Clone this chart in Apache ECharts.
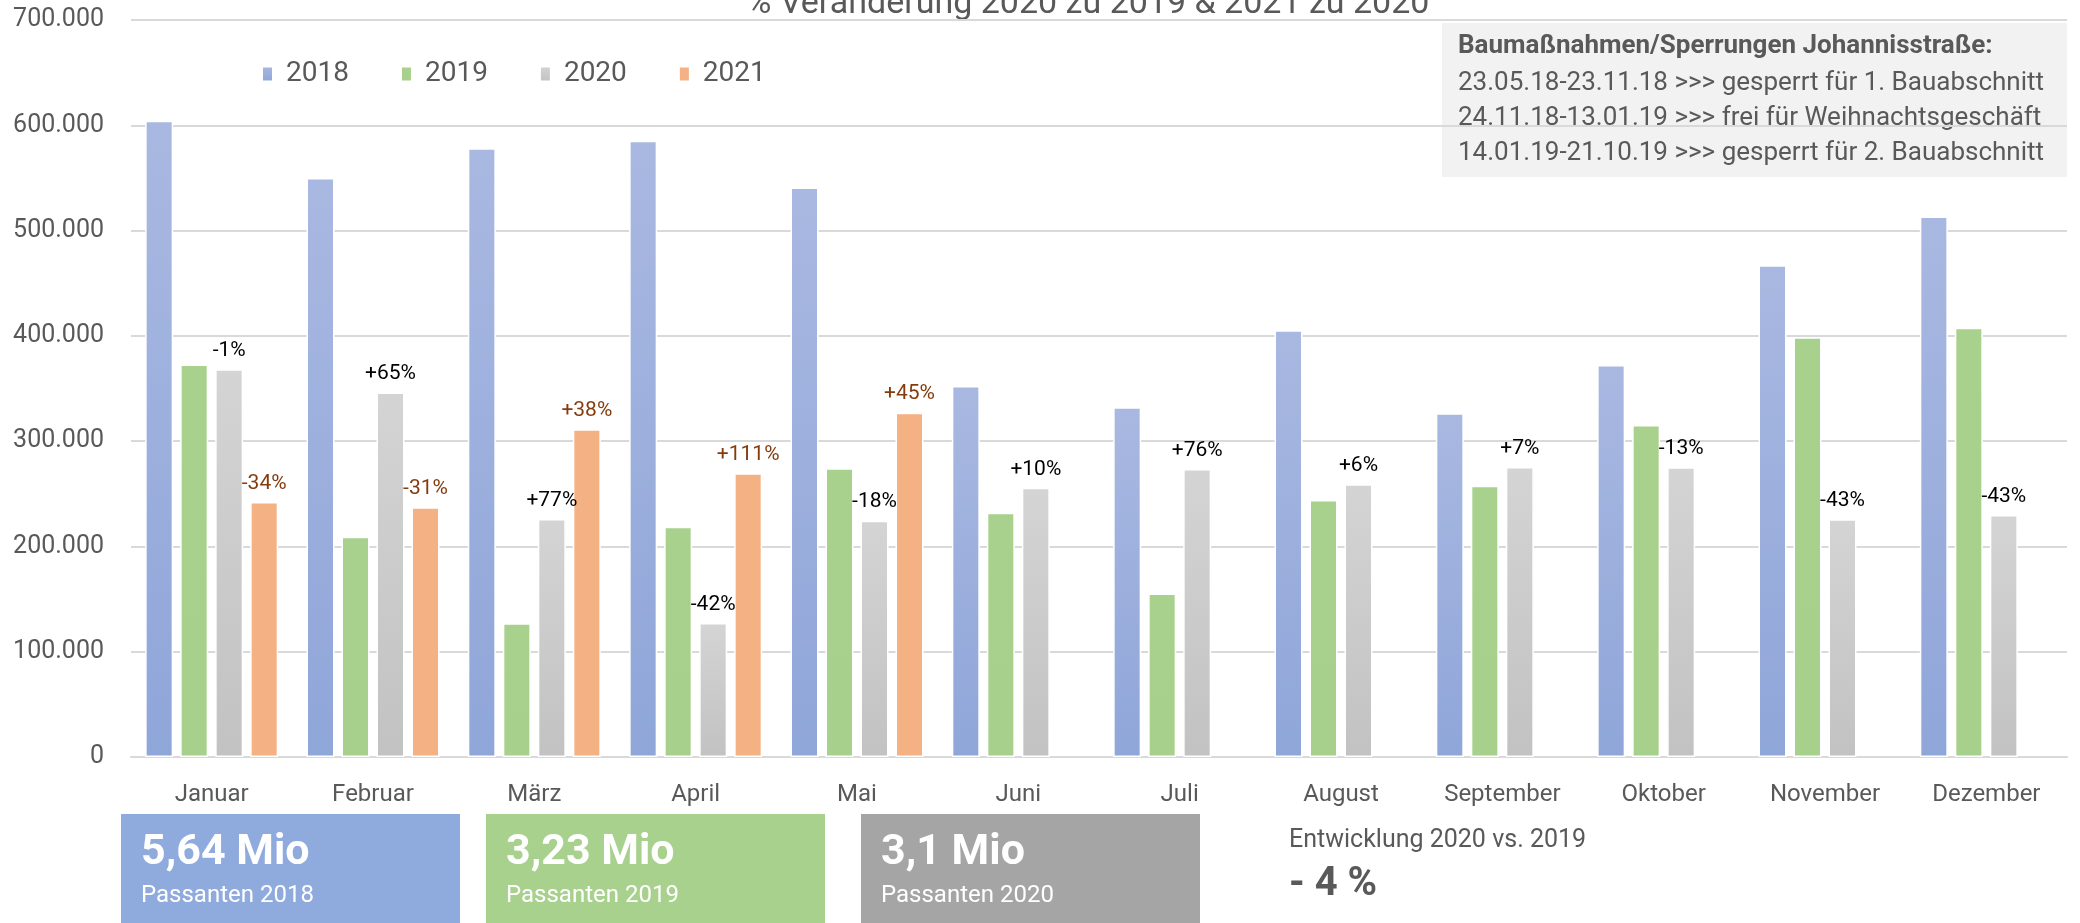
<!DOCTYPE html>
<html>
<head>
<meta charset="utf-8">
<script src="https://cdn.jsdelivr.net/npm/echarts@6/dist/echarts.min.js"></script>
<style>
  html, body { margin: 0; padding: 0; background: #fff; }
  #passantenChart { width: 2080px; height: 923px; }
</style>
</head>
<body>
<div id="passantenChart"></div>
<script>
// Monate und Passantenzahlen je Jahr
const months = ['Januar', 'Februar', 'März', 'April', 'Mai', 'Juni', 'Juli', 'August', 'September', 'Oktober', 'November', 'Dezember']
const years = ['2018', '2019', '2020', '2021']
const v2018 = [604300, 549900, 578300, 585300, 541000, 352300, 332100, 405300, 326400, 372300, 467000, 513400]
const v2019 = [372900, 209200, 127000, 218700, 274200, 232000, 155400, 244000, 257600, 315300, 398600, 407600]
const v2020 = [368200, 346300, 226000, 127300, 224400, 255700, 273500, 259000, 275400, 275100, 225700, 229800]
const v2021 = [242200, 237100, 311200, 269400, 327000, null, null, null, null, null, null, null]
// Veränderungen (Beschriftung über den Balken)
const change2020 = ['-1%', '+65%', '+77%', '-42%', '-18%', '+10%', '+76%', '+6%', '+7%', '-13%', '-43%', '-43%']
const change2021 = ['-34%', '-31%', '+38%', '+111%', '+45%']
// Kennzahlen unten
const totals = ['5,64 Mio', '3,23 Mio', '3,1 Mio']
const totalLabels = ['Passanten 2018', 'Passanten 2019', 'Passanten 2020']
const noteLines = [
  'Baumaßnahmen/Sperrungen Johannisstraße:',
  '23.05.18-23.11.18 >>> gesperrt für 1. Bauabschnitt',
  '24.11.18-13.01.19 >>> frei für Weihnachtsgeschäft',
  '14.01.19-21.10.19 >>> gesperrt für 2. Bauabschnitt'
]

const font = 'Roboto, "Noto Sans", sans-serif'
const textGray = '#595959'

function grad(top, bottom) {
  return new echarts.graphic.LinearGradient(0, 0, 0, 1, [
    { offset: 0, color: top },
    { offset: 1, color: bottom }
  ])
}

function barSeries(name, data, color, labels, labelColor) {
  return {
    name: name,
    type: 'bar',
    data: data,
    barWidth: 28,
    barGap: '25%',
    itemStyle: { color: color, borderColor: '#fff', borderWidth: 1.5 },
    label: {
      show: !!labels,
      position: 'top',
      distance: 8,
      fontFamily: font,
      fontSize: 21,
      color: labelColor,
      formatter: p => (labels && labels[p.dataIndex]) || ''
    }
  }
}

const chart = echarts.init(document.getElementById('passantenChart'))

const boxColors = ['#8FAADC', '#A9D18E', '#A5A5A5']
const boxX = [121, 486, 861]
const graphics = []
boxX.forEach((x, i) => {
  graphics.push({ type: 'rect', shape: { x: x, y: 814, width: 339, height: 120 }, style: { fill: boxColors[i] } })
  graphics.push({ type: 'text', x: x + 20, y: 853, style: { text: totals[i], fill: '#fff', fontFamily: font, fontSize: 43, fontWeight: 'bold', verticalAlign: 'middle' } })
  graphics.push({ type: 'text', x: x + 20, y: 896, style: { text: totalLabels[i], fill: '#fff', fontFamily: font, fontSize: 24, verticalAlign: 'middle' } })
})
graphics.push({ type: 'text', x: 1289, y: 841, style: { text: 'Entwicklung 2020 vs. 2019', fill: textGray, fontFamily: font, fontSize: 25, verticalAlign: 'middle' } })
graphics.push({ type: 'text', x: 1289, y: 885, style: { text: '- 4 %', fill: textGray, fontFamily: font, fontSize: 40, fontWeight: 'bold', verticalAlign: 'middle' } })
// Hinweisbox oben rechts
graphics.push({ type: 'rect', shape: { x: 1442, y: 23, width: 625, height: 154 }, style: { fill: '#F2F2F2' } })
const noteY = [46, 83, 118, 153]
noteLines.forEach((t, i) => {
  graphics.push({ type: 'text', x: 1458, y: noteY[i], style: { text: t, fill: textGray, fontFamily: font, fontSize: 26, fontWeight: i === 0 ? 'bold' : 'normal', verticalAlign: 'middle' } })
})
// Titel (oben abgeschnitten)
graphics.push({ type: 'text', x: 1088, y: 4, style: { text: '% Veränderung 2020 zu 2019 & 2021 zu 2020', fill: textGray, fontFamily: font, fontSize: 34, align: 'center', verticalAlign: 'middle' } })

chart.setOption({
  animation: false,
  textStyle: { fontFamily: font },
  legend: {
    data: years,
    left: 256,
    top: 55,
    icon: 'rect',
    itemWidth: 11,
    itemHeight: 15,
    itemGap: 51,
    textStyle: { fontSize: 28, color: textGray, padding: [0, 0, 0, 8] }
  },
  grid: { left: 131, right: 13, top: 20, bottom: 166, containLabel: false },
  xAxis: {
    type: 'category',
    data: months,
    axisLine: { lineStyle: { color: '#D9D9D9', width: 2 } },
    axisTick: { show: false },
    axisLabel: { fontSize: 24, color: textGray, margin: 26 }
  },
  yAxis: {
    type: 'value',
    min: 0,
    max: 700000,
    interval: 100000,
    axisLine: { show: false },
    axisTick: { show: false },
    splitLine: { lineStyle: { color: '#D9D9D9', width: 2 } },
    axisLabel: {
      fontSize: 25,
      color: textGray,
      margin: 27,
      formatter: v => v === 0 ? '0' : v.toLocaleString('de-DE')
    }
  },
  series: [
    barSeries('2018', v2018, grad('#A9B8E1', '#8FA6D9')),
    barSeries('2019', v2019, grad('#A9D18E', '#A7D08C')),
    barSeries('2020', v2020, grad('#D4D4D4', '#C2C2C2'), change2020, '#000'),
    barSeries('2021', v2021, '#F4B183', change2021, '#843C0C')
  ],
  graphic: graphics
})
</script>
</body>
</html>
